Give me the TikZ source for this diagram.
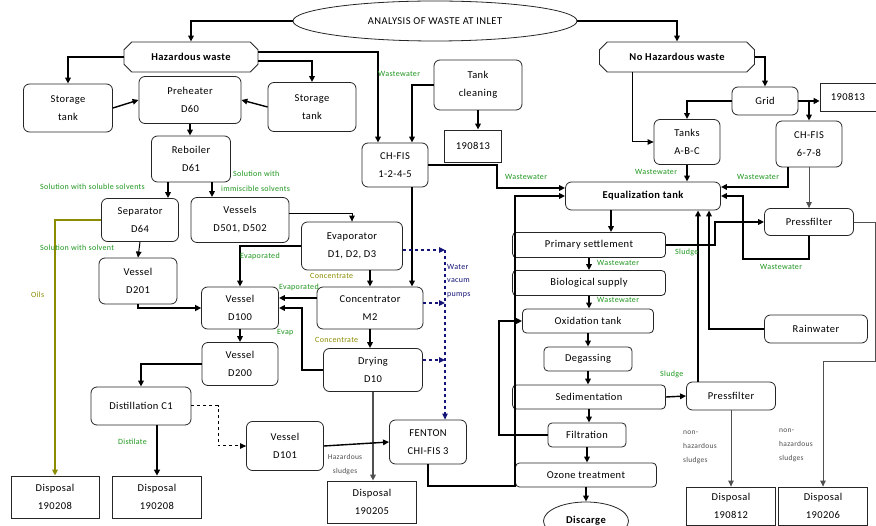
\documentclass[tikz,border=0pt]{standalone}
\usepackage{fontspec}
\setmainfont{Carlito}[LetterSpace=4]
\usetikzlibrary{arrows.meta,shapes.geometric,shapes.misc}
\definecolor{lgreen}{RGB}{30,150,30}
\definecolor{olivec}{RGB}{140,140,0}
\definecolor{navyc}{RGB}{20,20,120}
\definecolor{dgray}{RGB}{80,80,80}
\begin{document}
\begin{tikzpicture}[x=1pt,y=-1pt,
  box/.style={draw=black!85, line width=0.8pt, rounded corners=6pt, align=center, inner sep=0pt, font=\fontsize{10.5}{18}\selectfont},
  sq/.style={box, rounded corners=0pt},
  cham/.style={draw=black!85, line width=0.8pt, chamfered rectangle, chamfered rectangle xsep=9pt, chamfered rectangle ysep=4pt, inner sep=0pt, font=\fontsize{10.5}{18}\selectfont},
  conn/.style={line width=1.4pt, -{Triangle[length=6pt,width=5.5pt]}},
  thinconn/.style={line width=1pt, -{Triangle[length=6pt,width=5.5pt]}},
  thickconn/.style={line width=2.6pt, -{Triangle[length=6pt,width=6pt]}},
  grayconn/.style={draw=dgray, line width=0.9pt, -{Triangle[length=6pt,width=5.5pt]}},
  pump/.style={draw=navyc, line width=1.2pt, dashed, -{Triangle[length=6pt,width=5.5pt]}},
  lbl/.style={font=\fontsize{8}{9}\selectfont, text=lgreen, inner sep=0pt, anchor=west},
  glbl/.style={font=\fontsize{7.5}{14}\selectfont, text=dgray, inner sep=0pt, align=left}
]
\useasboundingbox (0,0) rectangle (876,526);
\fill[white] (0,0) rectangle (876,526);

% ---------------- nodes ----------------
\node[ellipse, draw=black!85, line width=0.8pt, minimum width=284pt, minimum height=40pt, inner sep=0pt, font=\fontsize{10.5}{12}\selectfont] (title) at (435,21) {ANALYSIS OF WASTE AT INLET};
\node[cham, minimum width=134pt, minimum height=30pt] (haz) at (191,57) {\bfseries Hazardous waste};
\node[cham, minimum width=155pt, minimum height=30pt] (nohaz) at (677,57) {\bfseries No Hazardous waste};
\node[box, minimum width=89pt, minimum height=48pt] (st1) at (68,108) {Storage\\tank};
\node[box, minimum width=102pt, minimum height=47pt] (pre) at (190,100) {Preheater\\D60};
\node[box, minimum width=88pt, minimum height=49pt] (st2) at (312,107) {Storage\\tank};
\node[box, minimum width=79pt, minimum height=46pt] (reb) at (191,159) {Reboiler\\D61};
\node[box, minimum width=77pt, minimum height=43pt] (sep) at (140,220) {Separator\\D64};
\node[box, minimum width=98pt, minimum height=45pt] (v501) at (240,220) {Vessels\\D501, D502};
\node[box, minimum width=78pt, minimum height=46pt] (d201) at (138,281) {Vessel\\D201};
\node[box, minimum width=101pt, minimum height=48pt] (evap) at (352,246) {Evaporator\\D1, D2, D3};
\node[box, minimum width=77pt, minimum height=42pt] (d100) at (240,308) {Vessel\\D100};
\node[box, minimum width=106pt, minimum height=42pt] (conc) at (370,308) {Concentrator\\M2};
\node[box, minimum width=76pt, minimum height=43pt] (d200) at (240,364) {Vessel\\D200};
\node[box, minimum width=99pt, minimum height=43pt] (dry) at (373,370) {Drying\\D10};
\node[box, minimum width=100pt, minimum height=38pt] (dist) at (141,406) {Distillation C1};
\node[box, minimum width=77pt, minimum height=49pt] (d101) at (285,446) {Vessel\\D101};
\node[box, minimum width=77pt, minimum height=44pt] (fenton) at (428,442) {FENTON\\CHI-FIS 3};
\node[sq, minimum width=88pt, minimum height=42pt] (disp1) at (55,497) {Disposal\\190208};
\node[sq, minimum width=89pt, minimum height=42pt] (disp2) at (157,497) {Disposal\\190208};
\node[sq, minimum width=89pt, minimum height=42pt] (disp3) at (372,502) {Disposal\\190205};
\node[box, minimum width=88pt, minimum height=50pt] (tankc) at (478,85) {Tank\\cleaning};
\node[sq, minimum width=57pt, minimum height=32pt] (r1) at (473,146) {190813};
\node[box, minimum width=66pt, minimum height=44pt] (chfis1) at (395,165) {CH-FIS\\1-2-4-5};
\node[box, minimum width=155pt, minimum height=28pt] (eq) at (643,196) {\bfseries Equalization tank};
\node[box, rounded corners=4pt, minimum width=153pt, minimum height=25pt] (prim) at (589,245) {Primary settlement};
\node[box, rounded corners=4pt, minimum width=153pt, minimum height=25pt] (bio) at (589,283) {Biological supply};
\node[box, rounded corners=4pt, minimum width=131pt, minimum height=24pt] (oxi) at (588,321) {Oxidation tank};
\node[box, rounded corners=4pt, minimum width=88pt, minimum height=24pt] (deg) at (588,359) {Degassing};
\node[box, rounded corners=4pt, minimum width=153pt, minimum height=24pt] (sedi) at (589,397) {Sedimentation};
\node[box, rounded corners=4pt, minimum width=78pt, minimum height=24pt] (filt) at (587,435) {Filtration};
\node[box, rounded corners=4pt, minimum width=141pt, minimum height=24pt] (ozone) at (586,475) {Ozone treatment};
\node[ellipse, draw=black!85, line width=0.8pt, minimum width=85pt, minimum height=38pt, inner sep=0pt, font=\fontsize{10.5}{12}\selectfont] (disc) at (586,521) {\bfseries Discarge};
\node[box, minimum width=89pt, minimum height=27pt] (pf1) at (809,222) {Pressfilter};
\node[box, minimum width=89pt, minimum height=28pt] (pf2) at (731,396) {Pressfilter};
\node[box, minimum width=103pt, minimum height=28pt] (rain) at (816,329) {Rainwater};
\node[box, minimum width=66pt, minimum height=28pt] (grid) at (765,101) {Grid};
\node[box, minimum width=66pt, minimum height=45pt] (tanks) at (687,142) {Tanks\\A-B-C};
\node[box, minimum width=66pt, minimum height=46pt] (chfis2) at (809,144) {CH-FIS\\6-7-8};
\node[sq, minimum width=56pt, minimum height=28pt] (r2) at (848,97) {190813};
\node[sq, minimum width=89pt, minimum height=38pt] (disp4) at (731,506) {Disposal\\190812};
\node[sq, minimum width=89pt, minimum height=38pt] (disp5) at (823,506) {Disposal\\190206};

% ---------------- connectors ----------------
\draw[conn] (title.west) -| (haz.north);
\draw[conn] (title.east) -| (nohaz.north);
\draw[conn] (haz.west) -| (st1.north);
\draw[conn] ([yshift=5pt]haz.east) -| ([xshift=-17pt]chfis1.north);
\draw[conn] ([yshift=-4pt]haz.east) -| (st2.north);
\draw[conn] (st1.east) -- (pre.west);
\draw[conn] (st2.west) -- (pre.east);
\draw[conn] (pre.south) -- (pre.south |- reb.north);
\draw[conn] ([xshift=-23pt]reb.south) -- ([xshift=-23pt]reb.south |- sep.north);
\draw[conn] ([xshift=21pt]reb.south) -- ([xshift=21pt]reb.south |- v501.north);
\draw[thinconn] (sep.south) -- (d201.north);
\draw[olivec, line width=1.6pt, -{Triangle[length=6pt,width=5.5pt]}] (sep.west) -| (disp1.north);
\draw[thickconn] (d201.south) |- (d100.west);
\draw[thinconn] ([yshift=6pt]v501.east) -| (evap.north);
\draw[conn] (evap.west) -| (d100.north);
\draw[conn] (evap.south -| conc.north) -- (conc.north);
\draw[conn] ([xshift=17pt]chfis1.south) -- ([xshift=17pt]chfis1.south |- conc.north);
\draw[conn] ([yshift=10pt]conc.west) -- ([yshift=10pt]conc.west -| d100.east);
\draw[conn] (dry.west) -| ([xshift=23pt]d100.east) -- (d100.east);
\draw[conn] (conc.south) -- (conc.south |- dry.north);
\coordinate (pv) at (445,250);
\draw[pump] ([yshift=-4pt]evap.east) -- (pv);
\draw[pump] ([yshift=5pt]conc.east) -- ([yshift=5pt]conc.east -| pv);
\draw[pump] ([yshift=10pt]dry.east) -- ([yshift=10pt]dry.east -| pv);
\draw[pump] (pv) -- (pv |- fenton.north);
\draw[draw=dgray, line width=2pt, -{Triangle[length=6pt,width=5.5pt]}] (dry.south) -- (dry.south |- disp3.north);
\draw[conn] (d101.east) -- (fenton.west);
\draw[thickconn] (dist.south -| disp2.north) -- (disp2.north);
\draw[line width=1pt, dashed, -{Triangle[length=6pt,width=5.5pt]}] (dist.east) -| ([xshift=-28pt]d101.west) -- (d101.west);
\draw[conn] (d100.south) -- (d200.north);
\draw[conn] (d200.west) -| (dist.north);
\draw[conn] (tankc.south) -- (tankc.south |- r1.north);
\draw[conn] (tankc.west) -| ([xshift=17pt]chfis1.north);
\coordinate (c1) at (497,188);
\draw[conn] (chfis1.east) -| (c1) -- (c1 -| eq.west);
\coordinate (c2) at (515,486);
\draw[conn] (fenton.south) |- (c2) |- (eq.west);
\coordinate (c3) at (499,321);
\draw[conn] (filt.west) -| (c3) -- (oxi.west);
\draw[conn] ([xshift=-32pt]eq.south) -- ([xshift=-32pt]eq.south |- prim.north);
\foreach \a/\b in {prim/bio, bio/oxi, oxi/deg, deg/sedi, sedi/filt, filt/ozone, ozone/disc}
  \draw[conn] (\a.south) -- (\a.south |- \b.north);
\coordinate (c4) at (715,245);
\draw[conn] (prim.east) -- (c4) |- (pf1.west);
\coordinate (c5) at (743,259);
\draw[conn] (pf1.south) |- (c5) |- (eq.east);
\draw[conn] ([xshift=-21pt]chfis2.south) |- ([yshift=9pt]eq.east);
\draw[grayconn] (chfis2.south) -- (pf1.north);
\draw[conn] (rain.west) -| ([xshift=66pt]eq.south);
\draw[conn] ([xshift=-33pt]pf2.north) -- ([xshift=-33pt]pf2.north |- eq.south);
\draw[conn] (sedi.east) -- (pf2.west);
\draw[grayconn] (pf2.south) -- (disp4.north);
\coordinate (c6) at (875,361);
\draw[grayconn] (pf1.east) -| (c6) -| (disp5.north);
\draw[conn] (nohaz.east) -| (grid.north);
\draw[thinconn] ([xshift=-45pt]nohaz.south) |- (tanks.west);
\draw[conn] (grid.west) -| (tanks.north);
\draw[thickconn] (grid.east) -- (grid.east -| r2.west);
\draw[conn] (grid.east -| chfis2.north) -- (chfis2.north);
\draw[conn] (tanks.south) -- (tanks.south |- eq.north);

% ---------------- labels ----------------
\node[lbl] (l1) at (40,187) {Solution with soluble solvents};
\node[lbl] (l2) at (233,174) {Solution with};
\node[lbl] (l3) at (221,189) {immiscible solvents};
\node[lbl] (l4) at (40,248) {Solution with solvent};
\node[lbl, text=olivec] (l5) at (31,295) {Oils};
\node[lbl] (l6) at (240,256) {Evaporated};
\node[lbl, text=olivec] (l7) at (310,276) {Concentrate};
\node[lbl] (l8) at (279,287) {Evaporated};
\node[lbl] (l9) at (277,333) {Evap};
\node[lbl, text=olivec] (l10) at (315,340) {Concentrate};
\node[lbl, text=navyc, align=left, anchor=north west, font=\fontsize{8}{13.5}\selectfont] (l11) at (447,264) {Water\\vacum\\pumps};
\node[glbl, align=center] (l12) at (345,465) {Hazardous\\sludges};
\node[lbl] (l13) at (118,442) {Distilate};
\node[lbl] (l14) at (378,74) {Wastewater};
\node[lbl] (l15) at (505,177) {Wastewater};
\node[lbl] (l16) at (635,172) {Wastewater};
\node[lbl] (l17) at (737,177) {Wastewater};
\node[lbl] (l18) at (597,263) {Wastewater};
\node[lbl] (l19) at (597,300) {Wastewater};
\node[lbl] (l20) at (675,252) {Sludge};
\node[lbl] (l21) at (760,267) {Wastewater};
\node[lbl] (l22) at (660,374) {Sludge};
\node[glbl, anchor=north west] (l23) at (683,431) {non-\\hazardous\\sludges};
\node[glbl, anchor=north west] (l24) at (779,429) {non-\\hazardous\\sludges};
\end{tikzpicture}
\end{document}
